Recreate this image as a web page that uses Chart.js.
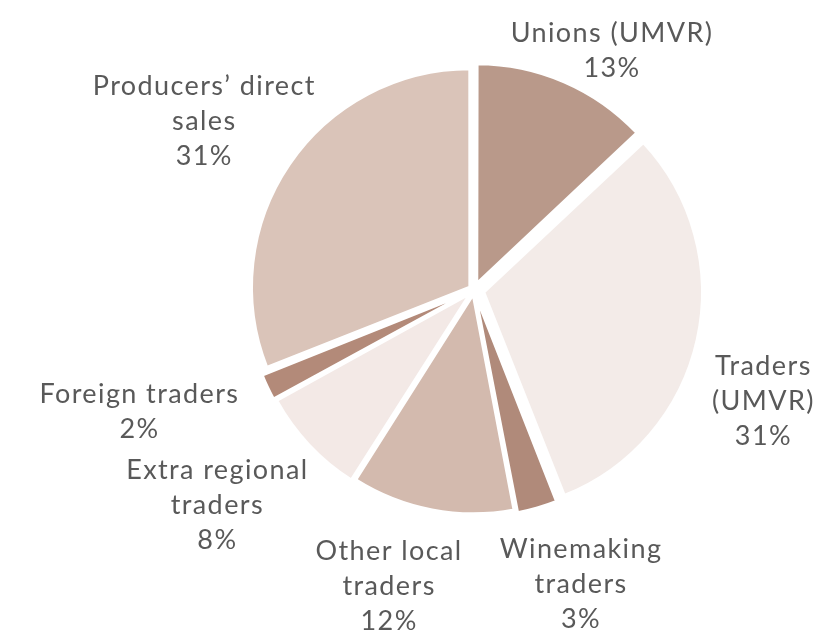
<!DOCTYPE html>
<html>
<head>
<meta charset="utf-8">
<script src="https://cdn.jsdelivr.net/npm/chart.js@4"></script>
<style>
  html, body { margin: 0; padding: 0; background: #fff; }
  #wrap { width: 838px; height: 634px; }
</style>
</head>
<body>
<div id="wrap"><canvas id="grafico"></canvas></div>
<script>
// dados
const categorias = [
    ['Unions (UMVR)'],
    ['Traders', '(UMVR)'],
    ['Winemaking', 'traders'],
    ['Other local', 'traders'],
    ['Extra regional', 'traders'],
    ['Foreign traders'],
    ['Producers\u2019 direct', 'sales']
]
const valores = [13, 31, 3, 12, 8, 2, 31]

// estilo
const cores = ['#b9998a', '#f3ebe8', '#b08a7a', '#d3baae', '#f3e9e6', '#b38a79', '#dac4b9']
const deslocamento = [28, 40, 20, 18, 22, 22, 20]
// posicao dos rotulos: [distancia do centro, ajuste do angulo em graus]
const posRotulo = [[276, 6.6], [310, 8.4], [313, -3.8], [308, 5.2], [335, 3.2], [356, 5.2], [318, -2.2]]

const rotulos = {
    id: 'rotulos',
    afterDraw(chart) {
        const ctx = chart.ctx
        const meta = chart.getDatasetMeta(0)
        ctx.save()
        ctx.fillStyle = '#595959'
        ctx.font = '27px Lato'
        ctx.letterSpacing = '1.4px'
        ctx.textAlign = 'center'
        ctx.textBaseline = 'middle'
        meta.data.forEach((arc, i) => {
            const p = arc.getProps(['x', 'y', 'startAngle', 'endAngle'])
            const meio = (p.startAngle + p.endAngle) / 2 + posRotulo[i][1] * Math.PI / 180
            const cx = p.x + Math.cos(meio) * posRotulo[i][0]
            const cy = p.y + Math.sin(meio) * posRotulo[i][0]
            const linhas = categorias[i].concat([valores[i] + '%'])
            const alt = 35
            linhas.forEach((t, j) => {
                ctx.fillText(t, cx, cy + (j - (linhas.length - 1) / 2) * alt)
            })
        })
        ctx.restore()
    }
}

new Chart(document.getElementById('grafico'), {
    type: 'pie',
    data: {
        labels: categorias.map(c => c.join(' ')),
        datasets: [{
            data: valores,
            backgroundColor: cores,
            borderColor: '#ffffff',
            borderWidth: 3,
            offset: deslocamento
        }]
    },
    options: {
        responsive: true,
        maintainAspectRatio: false,
        animation: false,
        radius: 218,
        layout: { padding: { left: 250, top: 66, right: 140, bottom: 120 } },
        plugins: {
            legend: { display: false },
            tooltip: { enabled: false }
        }
    },
    plugins: [rotulos]
})
</script>
</body>
</html>
